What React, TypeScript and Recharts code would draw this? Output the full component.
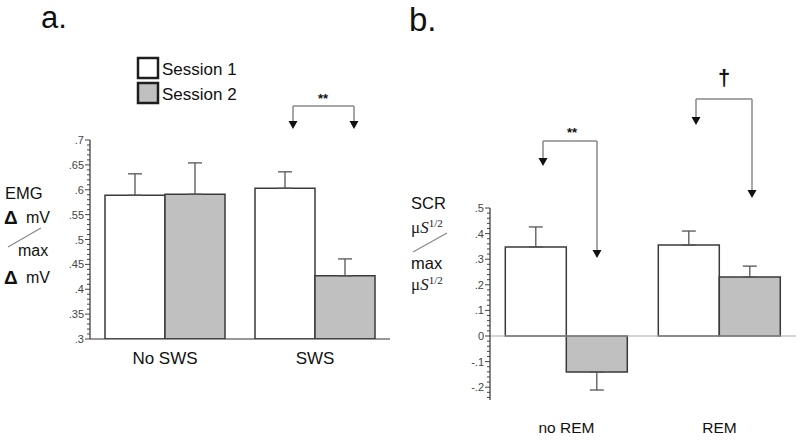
import React from "react"
import { BarChart, Bar, XAxis, YAxis, ErrorBar, Legend, ReferenceLine } from "recharts"

const categoriesA = ["No SWS", "SWS"]
const session1A = [0.589, 0.603]
const session2A = [0.591, 0.427]
const session1ErrA = [0.043, 0.033]
const session2ErrA = [0.063, 0.034]
const majorTicksA = [0.3, 0.35, 0.4, 0.45, 0.5, 0.55, 0.6, 0.65, 0.7]

const categoriesB = ["no REM", "REM"]
const session1B = [0.348, 0.355]
const session2B = [-0.141, 0.23]
const session1ErrB = [0.078, 0.055]
const session2ErrB = [0.07, 0.043]
const majorTicksB = [-0.2, -0.1, 0, 0.1, 0.2, 0.3, 0.4, 0.5]

const WHITE = "#ffffff"
const GREY = "#c0c0c0"
const EDGE = "#3a3a3a"
const FONT = "'Liberation Sans', Arial, sans-serif"
const SERIF = "'Liberation Serif', 'Times New Roman', serif"

// minor tick positions along the axis (decoration only)
function steps(lo: number, hi: number, step: number) {
  const out: number[] = []
  const n = Math.round((hi - lo) / step)
  for (let i = 0; i <= n; i++) out.push(Math.round((lo + i * step) * 1000) / 1000)
  return out
}

// error bars only point away from zero
const errPair = (v: number, e: number) => (v >= 0 ? [0, e] : [e, 0])

function buildRows(cats: string[], s1: number[], s2: number[], e1: number[], e2: number[]) {
  return cats.map((name, i) => ({
    name,
    s1: s1[i],
    s2: s2[i],
    e1: errPair(s1[i], e1[i]),
    e2: errPair(s2[i], e2[i]),
  }))
}

const dataA = buildRows(categoriesA, session1A, session2A, session1ErrA, session2ErrA)
const dataB = buildRows(categoriesB, session1B, session2B, session1ErrB, session2ErrB)

const fmt = (v: number) => (v === 0 ? "0" : String(v).replace("0.", "."))

function makeTick(majors: number[]) {
  return (props: any) => {
    const { x, y, payload } = props
    const major = majors.some((m) => Math.abs(m - payload.value) < 1e-6)
    return (
      <g>
        <line x1={x} x2={x - (major ? 5 : 3)} y1={y} y2={y} stroke="#444" strokeWidth={1} />
        {major && (
          <text x={x - 6} y={y} dy={4} textAnchor="end" fontSize={11} fill="#444" fontFamily={FONT}>
            {fmt(payload.value)}
          </text>
        )}
      </g>
    )
  }
}

function LegendBox({ payload }: any) {
  return (
    <svg width={130} height={52} style={{ display: "block" }}>
      {(payload || []).map((entry: any, i: number) => (
        <g key={i} transform={`translate(0, ${i * 25})`}>
          <rect x={2} y={2} width={20} height={20} fill={entry.payload?.fill || entry.color} stroke="#1e1e1e" strokeWidth={2.5} />
          <text x={26} y={19} fontSize={17} fill="#111" fontFamily={FONT}>
            {entry.value}
          </text>
        </g>
      ))}
    </svg>
  )
}

function Arrow({ x, from, to }: { x: number; from: number; to: number }) {
  return (
    <g>
      <line x1={x} x2={x} y1={from} y2={to - 7} stroke="#888" strokeWidth={1.5} />
      <polygon points={`${x - 4.5},${to - 8} ${x + 4.5},${to - 8} ${x},${to}`} fill="#111" />
    </g>
  )
}

function Bracket({ x1, x2, y, tip1, tip2 }: { x1: number; x2: number; y: number; tip1: number; tip2: number }) {
  return (
    <g>
      <line x1={x1} x2={x2} y1={y} y2={y} stroke="#888" strokeWidth={1.5} />
      <Arrow x={x1} from={y} to={tip1} />
      <Arrow x={x2} from={y} to={tip2} />
    </g>
  )
}

function MicroS({ x, y }: { x: number; y: number }) {
  return (
    <text x={x} y={y} fontFamily={SERIF} fontSize={17} fill="#222">
      <tspan>μ</tspan>
      <tspan fontStyle="italic">S</tspan>
      <tspan fontSize={11} dy={-6}>1/2</tspan>
    </text>
  )
}

function Delta({ x, y }: { x: number; y: number }) {
  return (
    <text x={x} y={y} fontSize={19} fontWeight="bold" fontFamily={FONT} fill="#111">
      Δ
    </text>
  )
}

function Overlay() {
  return (
    <svg width={800} height={440} style={{ position: "absolute", left: 0, top: 0, pointerEvents: "none" }}>
      <text x={41} y={28} fontSize={31} fontFamily={FONT} fill="#111">a.</text>
      <text x={409} y={31} fontSize={33} fontFamily={FONT} fill="#111">b.</text>

      {/* EMG axis title */}
      <g fontFamily={FONT} fill="#111">
        <text x={5} y={199} fontSize={16.5}>EMG</text>
        <Delta x={4} y={224} />
        <text x={26} y={223} fontSize={16}>mV</text>
        <line x1={8} y1={247} x2={41} y2={228} stroke="#888" strokeWidth={1.2} />
        <text x={18} y={256} fontSize={16}>max</text>
        <Delta x={4} y={284} />
        <text x={26} y={283} fontSize={16}>mV</text>
      </g>

      {/* SCR axis title */}
      <g fontFamily={FONT} fill="#111">
        <text x={411} y={209} fontSize={16.5}>SCR</text>
        <MicroS x={411} y={233} />
        <line x1={413} y1={252} x2={447} y2={233} stroke="#888" strokeWidth={1.2} />
        <text x={411} y={269} fontSize={16.5}>max</text>
        <MicroS x={411} y={290} />
      </g>

      {/* significance markers */}
      <text x={323} y={103} textAnchor="middle" fontSize={13} fontWeight="bold" fontFamily={FONT} fill="#111">**</text>
      <Bracket x1={293} x2={354} y={106} tip1={129} tip2={129} />

      <text x={572} y={137} textAnchor="middle" fontSize={13} fontWeight="bold" fontFamily={FONT} fill="#111">**</text>
      <Bracket x1={543} x2={597} y={141} tip1={166} tip2={258} />

      <text x={724} y={85} textAnchor="middle" fontSize={22} fontWeight="bold" fontFamily={FONT} fill="#111">†</text>
      <Bracket x1={696} x2={752} y={99} tip1={125} tip2={198} />
    </svg>
  )
}

export default function App() {
  const ticksA = steps(0.3, 0.7, 0.01)
  const ticksB = steps(-0.24, 0.5, 0.02)
  return (
    <div style={{ position: "absolute", left: 0, top: 0, width: 800, height: 440, background: "#fff", fontFamily: FONT }}>
      <div style={{ position: "absolute", left: 0, top: 0 }}>
        <BarChart width={400} height={440} data={dataA} margin={{ top: 140, right: 10, bottom: 71, left: 0 }} barGap={0} barCategoryGap="10%">
          <XAxis
            dataKey="name"
            axisLine={{ stroke: "#333", strokeWidth: 1.2 }}
            tickLine={false}
            tickSize={0}
            tickMargin={13}
            height={30}
            tick={{ fontSize: 17, fill: "#111" }}
          />
          <YAxis
            width={90}
            domain={[0.3, 0.7]}
            allowDataOverflow
            ticks={ticksA}
            interval={0}
            tickSize={0}
            tickMargin={0}
            tickLine={false}
            axisLine={{ stroke: "#333", strokeWidth: 1.2 }}
            tick={makeTick(majorTicksA)}
          />
          <Legend
            layout="horizontal"
            verticalAlign="middle"
            align="center"
            content={<LegendBox />}
            wrapperStyle={{ position: "absolute", left: 136, top: 56, width: 130, height: 52 }}
          />
          <Bar dataKey="s1" name="Session 1" fill={WHITE} stroke={EDGE} strokeWidth={1.5} isAnimationActive={false}>
            <ErrorBar dataKey="e1" direction="y" width={7} stroke="#555" strokeWidth={1.3} isAnimationActive={false} />
          </Bar>
          <Bar dataKey="s2" name="Session 2" fill={GREY} stroke={EDGE} strokeWidth={1.5} isAnimationActive={false}>
            <ErrorBar dataKey="e2" direction="y" width={7} stroke="#555" strokeWidth={1.3} isAnimationActive={false} />
          </Bar>
        </BarChart>
      </div>

      <div style={{ position: "absolute", left: 400, top: 0 }}>
        <BarChart width={400} height={440} data={dataB} margin={{ top: 208, right: 4, bottom: 10, left: 0 }} barGap={0} barCategoryGap="10%">
          <XAxis
            dataKey="name"
            axisLine={false}
            tickLine={false}
            tickSize={0}
            tickMargin={22}
            height={30}
            tick={{ fontSize: 15.5, fill: "#111" }}
          />
          <YAxis
            width={90}
            domain={[-0.25, 0.5]}
            allowDataOverflow
            ticks={ticksB}
            interval={0}
            tickSize={0}
            tickMargin={0}
            tickLine={false}
            axisLine={{ stroke: "#333", strokeWidth: 1.2 }}
            tick={makeTick(majorTicksB)}
          />
          <ReferenceLine y={0} stroke="#aaa" strokeWidth={1.2} />
          <Bar dataKey="s1" name="Session 1" fill={WHITE} stroke={EDGE} strokeWidth={1.5} isAnimationActive={false}>
            <ErrorBar dataKey="e1" direction="y" width={7} stroke="#555" strokeWidth={1.3} isAnimationActive={false} />
          </Bar>
          <Bar dataKey="s2" name="Session 2" fill={GREY} stroke={EDGE} strokeWidth={1.5} isAnimationActive={false}>
            <ErrorBar dataKey="e2" direction="y" width={7} stroke="#555" strokeWidth={1.3} isAnimationActive={false} />
          </Bar>
        </BarChart>
      </div>

      <Overlay />
    </div>
  )
}
